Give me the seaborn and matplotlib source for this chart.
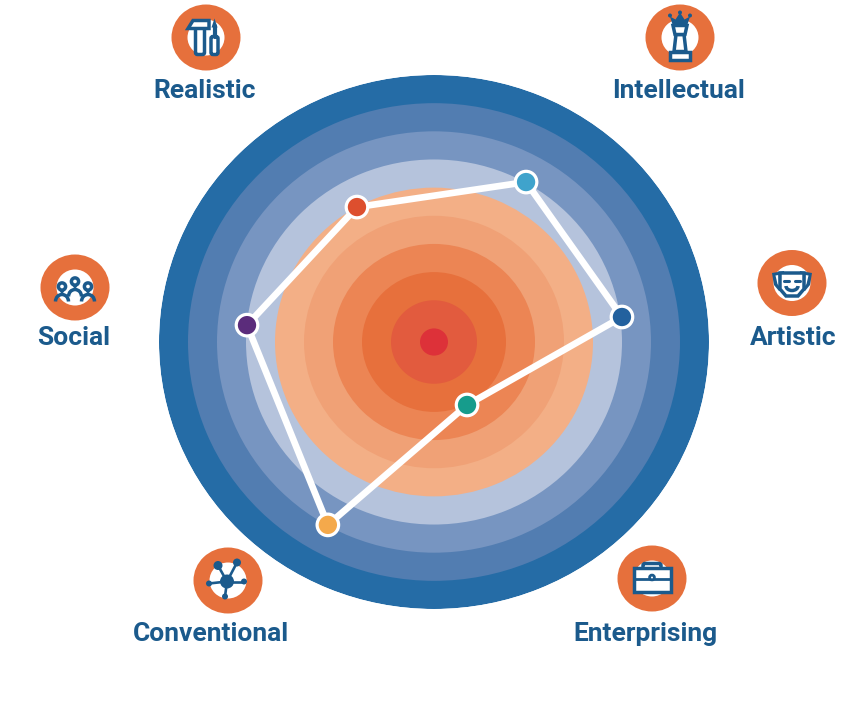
import numpy as np
import pandas as pd
import matplotlib
matplotlib.use("Agg")
import matplotlib.pyplot as plt
from matplotlib.patches import Circle, Rectangle, Polygon, FancyBboxPatch, Ellipse, Arc
import seaborn as sns

categories = ["Realistic", "Intellectual", "Artistic", "Enterprising", "Conventional", "Social"]
angles_deg = [-29.0, 29.2, 82.2, 153.0, 209.4, 275.3]
scores = [158.9, 188.7, 189.7, 72.8, 216.2, 187.8]
point_colors = ["#DD4F2E", "#3FA3CC", "#23619E", "#169C8C", "#F4A94B", "#5B2C7B"]
ring_radii = [275, 246, 217, 188, 159, 130, 101, 72, 43, 14]
ring_colors = ["#256CA6", "#527DB1", "#7795C1", "#B5C3DC", "#F3AF86",
               "#F0A176", "#EC8554", "#E7703C", "#E25B3E", "#DD3139"]
label_x = [205, 679, 793, 645, 211, 74]
label_y = [91, 91, 338, 634, 634, 338]
icon_x = [206, 680, 792, 652, 228, 75]
icon_y = [37.5, 37.5, 283, 578.5, 580.5, 287.5]

BLUE = "#1B5A8C"
ORANGE = "#E6703C"
W, H = 863, 706

sns.set_theme(style="white")
plt.rcParams["font.family"] = ["Roboto", "DejaVu Sans"]

fig = plt.figure(figsize=(W / 100, H / 100), dpi=100, facecolor="white")

cx, cy, R, RY = 434, 342, 275, 267
ax = fig.add_axes([(cx - R) / W, (H - cy - RY) / H, 2 * R / W, 2 * RY / H], projection="polar")
ax.set_aspect("auto")
ax.set_theta_zero_location("N")
ax.set_theta_direction(-1)
ax.set_ylim(0, R)
ax.axis("off")

for r, c in zip(ring_radii, ring_colors):
    ax.bar(0, r, width=2 * np.pi, bottom=0, color=c, linewidth=0)

df = pd.DataFrame({"category": categories, "theta": np.deg2rad(angles_deg), "score": scores})
closed = pd.concat([df, df.iloc[[0]]], ignore_index=True)
sns.lineplot(data=closed, x="theta", y="score", sort=False, estimator=None,
             color="white", linewidth=4.8, ax=ax, legend=False, zorder=5)
sns.scatterplot(data=df, x="theta", y="score", hue="category", hue_order=categories,
                palette=point_colors, s=240, edgecolor="white", linewidth=2.3,
                ax=ax, legend=False, zorder=6, clip_on=False)
ax.set_xlabel("")
ax.set_ylabel("")
ax.set_ylim(0, R)

ov = fig.add_axes([0, 0, 1, 1], facecolor="none")
ov.set_xlim(0, W)
ov.set_ylim(H, 0)
ov.axis("off")

LW = 2.5


def outline(patch, lw=LW):
    patch.set(facecolor="white", edgecolor=BLUE, linewidth=lw, zorder=4)
    ov.add_patch(patch)


def solid(patch):
    patch.set(facecolor=BLUE, edgecolor="none", zorder=5)
    ov.add_patch(patch)


def line(xs, ys, lw=LW):
    ov.plot(xs, ys, color=BLUE, lw=lw, solid_capstyle="round", zorder=5)


def rounded(x, y, w, h, rad=2):
    outline(FancyBboxPatch((x, y), w, h, boxstyle=f"round,pad=0,rounding_size={rad}"))


def icon_realistic(x, y):
    rounded(x - 10.5, y - 12, 9, 29)
    outline(Polygon([(x - 18, y - 9), (x - 13, y - 17), (x + 3, y - 17), (x + 3, y - 9)]))
    rounded(x + 5, y - 1, 7, 18)
    solid(Polygon([(x + 5.5, y - 10), (x + 8.5, y - 19), (x + 11.5, y - 10)]))
    line([x + 8.5, x + 8.5], [y - 12, y - 1], 3)


def icon_intellectual(x, y):
    outline(Rectangle((x - 10, y + 14), 20, 8))
    outline(Polygon([(x - 6, y + 14), (x - 4, y - 3), (x + 4, y - 3), (x + 6, y + 14)]))
    outline(Polygon([(x - 7, y - 12), (x + 7, y - 12), (x + 5, y - 3), (x - 5, y - 3)]))
    solid(Polygon([(x - 10, y - 21), (x - 4.5, y - 18), (x, y - 25), (x + 4.5, y - 18), (x + 10, y - 21),
                   (x + 7.5, y - 13), (x - 7.5, y - 13)]))
    for dx, dy in [(-10, -22), (0, -25), (10, -22)]:
        solid(Circle((x + dx, y + dy), 2))


def icon_artistic(x, y):
    solid(Polygon([(x - 20, y - 10), (x - 8, y - 12), (x - 6, y + 8), (x - 13, y + 8), (x - 18, y + 2)]))
    solid(Polygon([(x + 20, y - 10), (x + 8, y - 12), (x + 6, y + 8), (x + 13, y + 8), (x + 18, y + 2)]))
    ov.add_patch(Polygon([(x - 16.5, y - 7.5), (x - 13.5, y - 8), (x - 13, y + 3), (x - 14.5, y + 1)], fc="white", ec="none", zorder=5))
    ov.add_patch(Polygon([(x + 16.5, y - 7.5), (x + 13.5, y - 8), (x + 13, y + 3), (x + 14.5, y + 1)], fc="white", ec="none", zorder=5))
    outline(Polygon([(x - 12, y - 10), (x + 12, y - 10), (x + 12, y + 6), (x + 6, y + 13), (x - 6, y + 13), (x - 12, y + 6)]))
    ov.patches[-1].set_zorder(6)
    ov.plot([x - 8, x - 3], [y - 2, y - 2], color=BLUE, lw=2.2, solid_capstyle="round", zorder=7)
    ov.plot([x + 3, x + 8], [y - 2, y - 2], color=BLUE, lw=2.2, solid_capstyle="round", zorder=7)
    ov.add_patch(Arc((x, y + 3), 12, 9, theta1=0, theta2=180, color=BLUE, lw=LW, zorder=7))


def icon_enterprising(x, y):
    rounded(x - 9, y - 15, 18, 8)
    outline(Rectangle((x - 18.5, y - 11), 37, 24))
    line([x - 18, x + 18], [y, y], 2)
    outline(Circle((x, y - 1), 2.4), 2)
    ov.patches[-1].set_zorder(6)


def icon_conventional(x, y):
    hub = (x - 1, y + 1)
    nodes = [(-10, -15, 4.5), (9, -18, 4), (16, 1, 3), (-3, 16, 3), (-19, 3, 3)]
    for dx, dy, r in nodes:
        line([hub[0], x + dx], [hub[1], y + dy], 1.9)
        solid(Circle((x + dx, y + dy), r))
    solid(Circle(hub, 7))


def icon_social(x, y):
    for dx, dy in [(-13, 0), (13, 0), (0, -5)]:
        ov.add_patch(Arc((x + dx, y + dy + 14), 13, 14, theta1=180, theta2=360, color=BLUE, lw=LW, zorder=5))
        solid(Polygon([(x + dx - 4.5, y + dy), (x + dx + 4.5, y + dy), (x + dx, y + dy + 7)]))
        outline(Circle((x + dx, y + dy - 1), 3.6))
        ov.patches[-1].set_zorder(6)


drawers = [icon_realistic, icon_intellectual, icon_artistic, icon_enterprising, icon_conventional, icon_social]
for name, lx, ly, ix, iy, draw in zip(categories, label_x, label_y, icon_x, icon_y, drawers):
    ov.add_patch(Ellipse((ix, iy), 69, 66, fc=ORANGE, ec="none", zorder=2))
    ov.add_patch(Ellipse((ix, iy), 37, 36, fc="white", ec="none", zorder=3))
    draw(ix, iy)
    ov.text(lx, ly, name, color=BLUE, fontsize=19, fontweight="bold", ha="center", va="center", zorder=6)

fig.savefig("out.png", dpi=100)
